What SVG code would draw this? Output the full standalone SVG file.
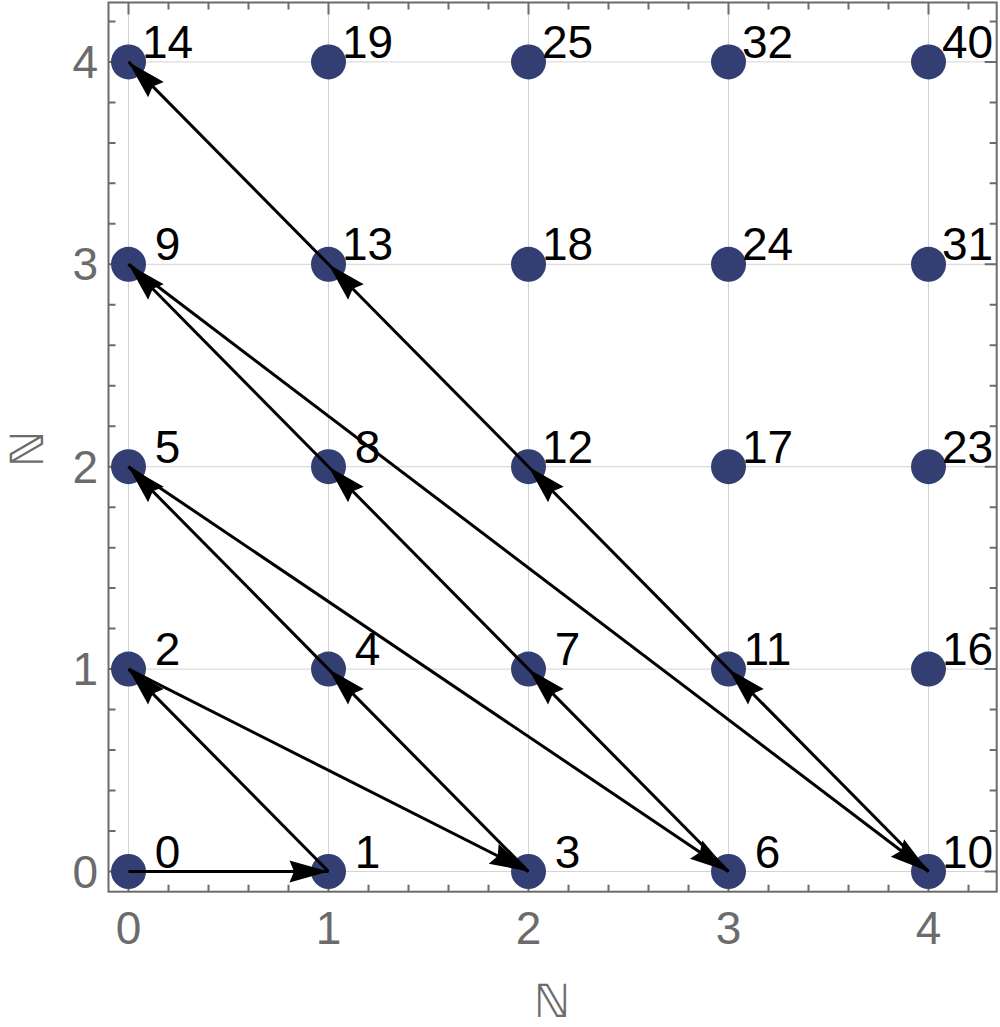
<svg xmlns="http://www.w3.org/2000/svg" width="1000" height="1027" viewBox="0 0 1000 1027">
<style>
.grid{stroke:#d4d4d4;stroke-width:1;fill:none}
.frame{stroke:#6b6b6b;stroke-width:2;fill:none}
.tick{stroke:#6b6b6b;stroke-width:2;fill:none}
.dot{fill:#333f72}
.lbl{font-family:"Liberation Sans",Arial,sans-serif;font-size:46px;fill:#000;text-anchor:middle}
.tl{font-family:"Liberation Sans",Arial,sans-serif;font-size:46px;fill:#6b6b6b}
.ax{font-family:"DejaVu Sans",sans-serif;font-size:46px;fill:#6b6b6b;text-anchor:middle}
.arr{stroke:#000;stroke-width:3;fill:none;marker-end:url(#ah)}
</style>
<defs>
<marker id="ah" markerUnits="userSpaceOnUse" markerWidth="44" markerHeight="26" viewBox="-42 -13 44 26" refX="0" refY="0" orient="auto">
<path d="M0,0 L-39,-11 L-34.5,0 L-39,11 Z" fill="#000"/>
</marker>
</defs>
<rect width="1000" height="1027" fill="#fff"/>
<g id="grid">
<path class="grid" d="M128.5 2.5V891.7M328.5 2.5V891.7M528.5 2.5V891.7M728.5 2.5V891.7M928.5 2.5V891.7M108.5 871.5H996.7M108.5 669.1H996.7M108.5 466.7H996.7M108.5 264.3H996.7M108.5 61.9H996.7"/>
</g>
<g id="axes">
<rect class="frame" x="108.5" y="2.5" width="888.2" height="889.2"/>
<path class="tick" d="M128.5 891.7v-12M328.5 891.7v-12M528.5 891.7v-12M728.5 891.7v-12M928.5 891.7v-12M128.5 2.5v12M328.5 2.5v12M528.5 2.5v12M728.5 2.5v12M928.5 2.5v12"/>
<path class="tick" d="M168.5 891.7v-7M208.5 891.7v-7M248.5 891.7v-7M288.5 891.7v-7M368.5 891.7v-7M408.5 891.7v-7M448.5 891.7v-7M488.5 891.7v-7M568.5 891.7v-7M608.5 891.7v-7M648.5 891.7v-7M688.5 891.7v-7M768.5 891.7v-7M808.5 891.7v-7M848.5 891.7v-7M888.5 891.7v-7M968.5 891.7v-7M168.5 2.5v7M208.5 2.5v7M248.5 2.5v7M288.5 2.5v7M368.5 2.5v7M408.5 2.5v7M448.5 2.5v7M488.5 2.5v7M568.5 2.5v7M608.5 2.5v7M648.5 2.5v7M688.5 2.5v7M768.5 2.5v7M808.5 2.5v7M848.5 2.5v7M888.5 2.5v7M968.5 2.5v7"/>
<path class="tick" d="M108.5 871.5h12M108.5 669.1h12M108.5 466.7h12M108.5 264.3h12M108.5 61.9h12M996.7 871.5h-12M996.7 669.1h-12M996.7 466.7h-12M996.7 264.3h-12M996.7 61.9h-12"/>
<path class="tick" d="M108.5 831h7M108.5 790.5h7M108.5 750.1h7M108.5 709.6h7M108.5 628.6h7M108.5 588.1h7M108.5 547.7h7M108.5 507.2h7M108.5 426.2h7M108.5 385.7h7M108.5 345.3h7M108.5 304.8h7M108.5 223.8h7M108.5 183.3h7M108.5 142.9h7M108.5 102.4h7M108.5 21.4h7M996.7 831h-7M996.7 790.5h-7M996.7 750.1h-7M996.7 709.6h-7M996.7 628.6h-7M996.7 588.1h-7M996.7 547.7h-7M996.7 507.2h-7M996.7 426.2h-7M996.7 385.7h-7M996.7 345.3h-7M996.7 304.8h-7M996.7 223.8h-7M996.7 183.3h-7M996.7 142.9h-7M996.7 102.4h-7M996.7 21.4h-7"/>
<g class="tl" text-anchor="middle">
<text x="128.5" y="944">0</text><text x="328.5" y="944">1</text><text x="528.5" y="944">2</text><text x="728.5" y="944">3</text><text x="928.5" y="944">4</text>
</g>
<g class="tl" text-anchor="end">
<text x="98" y="887.5">0</text><text x="98" y="685.1">1</text><text x="98" y="482.7">2</text><text x="98" y="280.3">3</text><text x="98" y="77.9">4</text>
</g>
<text class="ax" x="552" y="1017">ℕ</text>
<text class="ax" transform="translate(43,449) rotate(-90)">ℕ</text>
</g>
<g id="nodes">
<g id="n0"><circle class="dot" cx="128.5" cy="871.5" r="17.5"/><text class="lbl" x="167.5" y="867.5">0</text></g>
<g id="n1"><circle class="dot" cx="328.5" cy="871.5" r="17.5"/><text class="lbl" x="367.5" y="867.5">1</text></g>
<g id="n3"><circle class="dot" cx="528.5" cy="871.5" r="17.5"/><text class="lbl" x="567.5" y="867.5">3</text></g>
<g id="n6"><circle class="dot" cx="728.5" cy="871.5" r="17.5"/><text class="lbl" x="767.5" y="867.5">6</text></g>
<g id="n10"><circle class="dot" cx="928.5" cy="871.5" r="17.5"/><text class="lbl" x="967.5" y="867.5">10</text></g>
<g id="n2"><circle class="dot" cx="128.5" cy="669.1" r="17.5"/><text class="lbl" x="167.5" y="665.1">2</text></g>
<g id="n4"><circle class="dot" cx="328.5" cy="669.1" r="17.5"/><text class="lbl" x="367.5" y="665.1">4</text></g>
<g id="n7"><circle class="dot" cx="528.5" cy="669.1" r="17.5"/><text class="lbl" x="567.5" y="665.1">7</text></g>
<g id="n11"><circle class="dot" cx="728.5" cy="669.1" r="17.5"/><text class="lbl" x="767.5" y="665.1">11</text></g>
<g id="n16"><circle class="dot" cx="928.5" cy="669.1" r="17.5"/><text class="lbl" x="967.5" y="665.1">16</text></g>
<g id="n5"><circle class="dot" cx="128.5" cy="466.7" r="17.5"/><text class="lbl" x="167.5" y="462.7">5</text></g>
<g id="n8"><circle class="dot" cx="328.5" cy="466.7" r="17.5"/><text class="lbl" x="367.5" y="462.7">8</text></g>
<g id="n12"><circle class="dot" cx="528.5" cy="466.7" r="17.5"/><text class="lbl" x="567.5" y="462.7">12</text></g>
<g id="n17"><circle class="dot" cx="728.5" cy="466.7" r="17.5"/><text class="lbl" x="767.5" y="462.7">17</text></g>
<g id="n23"><circle class="dot" cx="928.5" cy="466.7" r="17.5"/><text class="lbl" x="967.5" y="462.7">23</text></g>
<g id="n9"><circle class="dot" cx="128.5" cy="264.3" r="17.5"/><text class="lbl" x="167.5" y="260.3">9</text></g>
<g id="n13"><circle class="dot" cx="328.5" cy="264.3" r="17.5"/><text class="lbl" x="367.5" y="260.3">13</text></g>
<g id="n18"><circle class="dot" cx="528.5" cy="264.3" r="17.5"/><text class="lbl" x="567.5" y="260.3">18</text></g>
<g id="n24"><circle class="dot" cx="728.5" cy="264.3" r="17.5"/><text class="lbl" x="767.5" y="260.3">24</text></g>
<g id="n31"><circle class="dot" cx="928.5" cy="264.3" r="17.5"/><text class="lbl" x="967.5" y="260.3">31</text></g>
<g id="n14"><circle class="dot" cx="128.5" cy="61.9" r="17.5"/><text class="lbl" x="167.5" y="57.9">14</text></g>
<g id="n19"><circle class="dot" cx="328.5" cy="61.9" r="17.5"/><text class="lbl" x="367.5" y="57.9">19</text></g>
<g id="n25"><circle class="dot" cx="528.5" cy="61.9" r="17.5"/><text class="lbl" x="567.5" y="57.9">25</text></g>
<g id="n32"><circle class="dot" cx="728.5" cy="61.9" r="17.5"/><text class="lbl" x="767.5" y="57.9">32</text></g>
<g id="n40"><circle class="dot" cx="928.5" cy="61.9" r="17.5"/><text class="lbl" x="967.5" y="57.9">40</text></g>
</g>
<g id="connectors">
<line class="arr" x1="128.5" y1="871.5" x2="328.5" y2="871.5"/>
<line class="arr" x1="328.5" y1="871.5" x2="128.5" y2="669.1"/>
<line class="arr" x1="128.5" y1="669.1" x2="528.5" y2="871.5"/>
<line class="arr" x1="528.5" y1="871.5" x2="328.5" y2="669.1"/>
<line class="arr" x1="328.5" y1="669.1" x2="128.5" y2="466.7"/>
<line class="arr" x1="128.5" y1="466.7" x2="728.5" y2="871.5"/>
<line class="arr" x1="728.5" y1="871.5" x2="528.5" y2="669.1"/>
<line class="arr" x1="528.5" y1="669.1" x2="328.5" y2="466.7"/>
<line class="arr" x1="328.5" y1="466.7" x2="128.5" y2="264.3"/>
<line class="arr" x1="128.5" y1="264.3" x2="928.5" y2="871.5"/>
<line class="arr" x1="928.5" y1="871.5" x2="728.5" y2="669.1"/>
<line class="arr" x1="728.5" y1="669.1" x2="528.5" y2="466.7"/>
<line class="arr" x1="528.5" y1="466.7" x2="328.5" y2="264.3"/>
<line class="arr" x1="328.5" y1="264.3" x2="128.5" y2="61.9"/>
</g>
</svg>
